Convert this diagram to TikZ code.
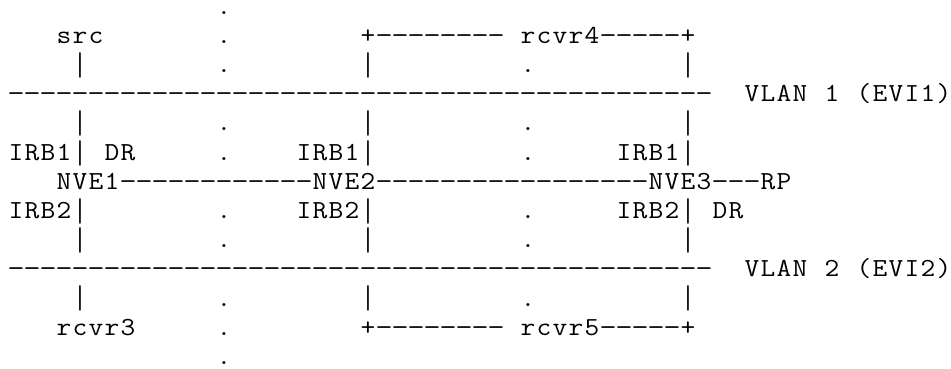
\documentclass[tikz,border=0pt]{standalone}
\usepackage{fontspec}
\usepackage{graphicx}
% monospaced text set on a fixed 16pt character grid, 29.17pt between lines
\makeatletter
\newcommand\gridword[1]{\gw@loop#1\gw@end}
\def\gw@end{\gw@end}
\def\gw@loop#1{\ifx#1\gw@end\else\gw@cell{#1}\expandafter\gw@loop\fi}
\def\gw@cell#1{\makebox[16pt]{\ifx-#1\scalebox{1.3}[1]{-}\else\ifx|#1\gw@bar\else\scalebox{1.1}[1]{#1}\fi\fi}}
% vertical bar stretched to the full line height
\def\gw@bar{\raisebox{-5.7pt}{\resizebox{\width}{25.6pt}{\raisebox{\depth}{|}}}}
\makeatother
\newcommand\asciifont{\ttfamily\fontsize{26}{29}\selectfont}
\begin{document}
\begin{tikzpicture}[asc/.style={anchor=base west,inner sep=0pt,outer sep=0pt,font=\asciifont,text=black}]
\useasboundingbox (0pt,0pt) rectangle (951pt,-369pt);
\begin{scope}[shift={(8pt,-14.3pt)},x=16pt,y=-29.17pt]
  % row 0
  \node[asc] (dotA0) at (13,0) {\gridword{.}};
  % row 1
  \node[asc] (src) at (3,1) {\gridword{src}};
  \node[asc] (dotA1) at (13,1) {\gridword{.}};
  \node[asc] (boxTopL) at (22,1) {\gridword{+--------}};
  \node[asc] (rcvr4) at (32,1) {\gridword{rcvr4-----+}};
  % row 2
  \node[asc] (pA2) at (4,2) {\gridword{|}};
  \node[asc] (dotA2) at (13,2) {\gridword{.}};
  \node[asc] (pB2) at (22,2) {\gridword{|}};
  \node[asc] (dotB2) at (32,2) {\gridword{.}};
  \node[asc] (pC2) at (42,2) {\gridword{|}};
  % row 3: VLAN 1
  \node[asc] (vlan1bus) at (0,3) {\gridword{--------------------------------------------}};
  \node[asc] (vlan1) at (46,3) {\gridword{VLAN\ 1\ (EVI1)}};
  % row 4
  \node[asc] (pA4) at (4,4) {\gridword{|}};
  \node[asc] (dotA4) at (13,4) {\gridword{.}};
  \node[asc] (pB4) at (22,4) {\gridword{|}};
  \node[asc] (dotB4) at (32,4) {\gridword{.}};
  \node[asc] (pC4) at (42,4) {\gridword{|}};
  % row 5
  \node[asc] (irb1a) at (0,5) {\gridword{IRB1|}};
  \node[asc] (dr1) at (6,5) {\gridword{DR}};
  \node[asc] (dotA5) at (13,5) {\gridword{.}};
  \node[asc] (irb1b) at (18,5) {\gridword{IRB1|}};
  \node[asc] (dotB5) at (32,5) {\gridword{.}};
  \node[asc] (irb1c) at (38,5) {\gridword{IRB1|}};
  % row 6: NVE chain
  \node[asc] (nve1) at (3,6) {\gridword{NVE1}};
  \node[asc] (l12) at (7,6) {\gridword{------------}};
  \node[asc] (nve2) at (19,6) {\gridword{NVE2}};
  \node[asc] (l23) at (23,6) {\gridword{-----------------}};
  \node[asc] (nve3) at (40,6) {\gridword{NVE3}};
  \node[asc] (l3rp) at (44,6) {\gridword{---}};
  \node[asc] (rp) at (47,6) {\gridword{RP}};
  % row 7
  \node[asc] (irb2a) at (0,7) {\gridword{IRB2|}};
  \node[asc] (dotA7) at (13,7) {\gridword{.}};
  \node[asc] (irb2b) at (18,7) {\gridword{IRB2|}};
  \node[asc] (dotB7) at (32,7) {\gridword{.}};
  \node[asc] (irb2c) at (38,7) {\gridword{IRB2|}};
  \node[asc] (dr3) at (44,7) {\gridword{DR}};
  % row 8
  \node[asc] (pA8) at (4,8) {\gridword{|}};
  \node[asc] (dotA8) at (13,8) {\gridword{.}};
  \node[asc] (pB8) at (22,8) {\gridword{|}};
  \node[asc] (dotB8) at (32,8) {\gridword{.}};
  \node[asc] (pC8) at (42,8) {\gridword{|}};
  % row 9: VLAN 2
  \node[asc] (vlan2bus) at (0,9) {\gridword{--------------------------------------------}};
  \node[asc] (vlan2) at (46,9) {\gridword{VLAN\ 2\ (EVI2)}};
  % row 10
  \node[asc] (pA10) at (4,10) {\gridword{|}};
  \node[asc] (dotA10) at (13,10) {\gridword{.}};
  \node[asc] (pB10) at (22,10) {\gridword{|}};
  \node[asc] (dotB10) at (32,10) {\gridword{.}};
  \node[asc] (pC10) at (42,10) {\gridword{|}};
  % row 11
  \node[asc] (rcvr3) at (3,11) {\gridword{rcvr3}};
  \node[asc] (dotA11) at (13,11) {\gridword{.}};
  \node[asc] (boxBotL) at (22,11) {\gridword{+--------}};
  \node[asc] (rcvr5) at (32,11) {\gridword{rcvr5-----+}};
  % row 12
  \node[asc] (dotA12) at (13,12) {\gridword{.}};
\end{scope}
\end{tikzpicture}
\end{document}
